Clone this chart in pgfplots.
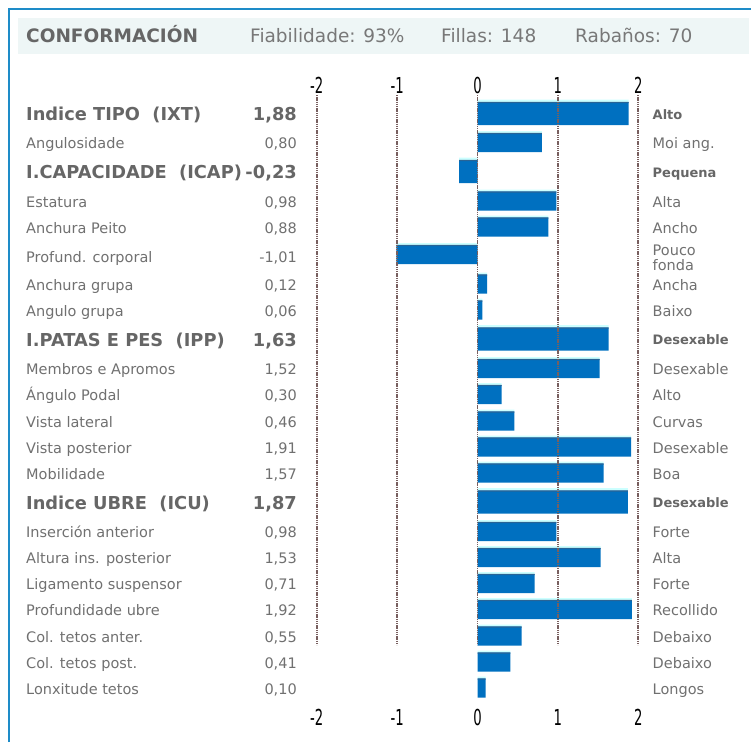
\documentclass[border=0pt]{standalone}
\usepackage{fontspec}
\setmainfont{DejaVu Sans}
\usepackage{graphicx}
\usepackage{pgfplots}
\pgfplotsset{compat=1.18}
\usepackage{pgfplotstable}
\definecolor{barblue}{RGB}{0,112,192}
\definecolor{barcyan}{RGB}{204,255,255}
\definecolor{bardark}{RGB}{40,100,150}
\definecolor{gridc}{RGB}{120,95,95}
\definecolor{txt}{RGB}{112,112,112}
\definecolor{btxt}{RGB}{102,102,102}
\definecolor{htxt}{RGB}{120,120,120}
\definecolor{framec}{RGB}{30,140,200}
\definecolor{band}{RGB}{238,246,246}

\pgfplotstableread{
y v
142.5 0.80
201 0.98
227 0.88
254.5 -1.01
284 0.12
310 0.06
368.5 1.52
394.5 0.30
421 0.46
447 1.91
473 1.57
531.5 0.98
557.5 1.53
583.5 0.71
609.5 1.92
636 0.55
662 0.41
688 0.10
}\normalrows

\pgfplotstableread{
y v
113.5 1.88
171.5 -0.23
339 1.63
502 1.87
}\boldrows

\tikzset{
  lab/.style={anchor=base west, inner sep=0pt, text=txt, font=\fontsize{14.5}{17}\selectfont},
  val/.style={anchor=base east, inner sep=0pt, text=txt, font=\fontsize{14.5}{17}\selectfont},
  rlab/.style={anchor=base west, inner sep=0pt, text=txt, font=\fontsize{14.5}{17}\selectfont},
  blab/.style={anchor=base west, inner sep=0pt, text=btxt, font=\bfseries\fontsize{17.8}{20}\selectfont},
  bval/.style={anchor=base east, inner sep=0pt, text=btxt, font=\bfseries\fontsize{17.8}{20}\selectfont},
  rblab/.style={anchor=base west, inner sep=0pt, text=btxt, font=\bfseries\fontsize{13}{15}\selectfont},
  ticklab/.style={anchor=center, inner sep=0pt, text=black, font=\fontsize{22}{22}\selectfont},
}
\newcommand{\row}[4]{%
  \node[lab] at (26,#1+5.3) {#2};
  \node[val] at (297,#1+5.3) {#3};
  \node[rlab] at (652.5,#1+5.3) {#4};}
\newcommand{\brow}[4]{%
  \node[blab] at (26,#1+6.5) {#2};
  \node[bval] at (297,#1+6.5) {#3};
  \node[rblab] at (652.5,#1+4.7) {#4};}

\begin{document}
\begin{tikzpicture}
% frame and header band
\begin{scope}[shift={(0,742pt)}, x=1pt, y=-1pt]
  \fill[band] (18,18) rectangle (749,54);
  \draw[framec, line width=2.4pt] (8.7,742) -- (8.7,9) -- (751,9);
  \node[anchor=base west, inner sep=0pt, text=btxt, font=\bfseries\fontsize{18.5}{20}\selectfont] at (26,42.7) {CONFORMACIÓN};
  \node[anchor=base west, inner sep=0pt, text=htxt, font=\fontsize{18.5}{20}\selectfont] at (250,42.7) {Fiabilidade: 93\%};
  \node[anchor=base west, inner sep=0pt, text=htxt, font=\fontsize{18.5}{20}\selectfont] at (441,42.7) {Fillas: 148};
  \node[anchor=base west, inner sep=0pt, text=htxt, font=\fontsize{18.5}{20}\selectfont] at (575,42.7) {Rabaños: 70};
\end{scope}

\begin{axis}[
  scale only axis, width=751pt, height=742pt,
  anchor=south west, at={(0pt,0pt)},
  xmin=-5.93905, xmax=3.40174,
  ymin=0, ymax=742, y dir=reverse,
  hide axis, clip=false,
]
% normal rows
\addplot[xbar, bar width=2, bar shift=0pt, fill=barcyan, draw=none] table[x=v, y expr=\thisrow{y}-10.5] {\normalrows};
\addplot[xbar, bar width=19, bar shift=0pt, fill=barblue, draw=none] table[x=v, y=y] {\normalrows};
\addplot[xbar, bar width=1.2, bar shift=0pt, fill=bardark, draw=none] table[x=v, y expr=\thisrow{y}-9] {\normalrows};
% bold rows
\addplot[xbar, bar width=2.5, bar shift=0pt, fill=barcyan, draw=none] table[x=v, y expr=\thisrow{y}-12.75] {\boldrows};
\addplot[xbar, bar width=23, bar shift=0pt, fill=barblue, draw=none] table[x=v, y=y] {\boldrows};
\addplot[xbar, bar width=1.2, bar shift=0pt, fill=bardark, draw=none] table[x=v, y expr=\thisrow{y}-11] {\boldrows};
% grid lines and tick labels
\pgfplotsinvokeforeach{-2,-1,0,1,2}{
  \draw[gridc, line width=1.8pt, dash pattern=on 1.4pt off 0.8pt] (axis cs:#1,95) -- (axis cs:#1,645);
  \node[ticklab] at (axis cs:#1,85.5) {\scalebox{0.6}[1]{#1}};
  \node[ticklab] at (axis cs:#1,717) {\scalebox{0.6}[1]{#1}};
}
\end{axis}

\begin{scope}[shift={(0,742pt)}, x=1pt, y=-1pt]
  \brow{114.5}{Indice TIPO\ \ (IXT)}{1,88}{Alto}
  \row{143.5}{Angulosidade}{0,80}{Moi ang.}
  \brow{172.5}{I.CAPACIDADE\ \ (ICAP)}{-0,23}{Pequena}
  \row{202}{Estatura}{0,98}{Alta}
  \row{228}{Anchura Peito}{0,88}{Ancho}
  \node[lab] at (26,257+5.3) {Profund. corporal};
  \node[val] at (297,257+5.3) {-1,01};
  \node[rlab] at (652.5,250+5.3) {Pouco};
  \node[rlab] at (652.5,265+5.3) {fonda};
  \row{285}{Anchura grupa}{0,12}{Ancha}
  \row{311}{Angulo grupa}{0,06}{Baixo}
  \brow{340}{I.PATAS E PES\ \ (IPP)}{1,63}{Desexable}
  \row{369.5}{Membros e Apromos}{1,52}{Desexable}
  \row{395.5}{Ángulo Podal}{0,30}{Alto}
  \row{422}{Vista lateral}{0,46}{Curvas}
  \row{448}{Vista posterior}{1,91}{Desexable}
  \row{474}{Mobilidade}{1,57}{Boa}
  \brow{503}{Indice UBRE\ \ (ICU)}{1,87}{Desexable}
  \row{532.5}{Inserción anterior}{0,98}{Forte}
  \row{558.5}{Altura ins. posterior}{1,53}{Alta}
  \row{584.5}{Ligamento suspensor}{0,71}{Forte}
  \row{610.5}{Profundidade ubre}{1,92}{Recollido}
  \row{637}{Col. tetos anter.}{0,55}{Debaixo}
  \row{663}{Col. tetos post.}{0,41}{Debaixo}
  \row{689}{Lonxitude tetos}{0,10}{Longos}
\end{scope}
\pgfresetboundingbox
\useasboundingbox (0,0) rectangle (751pt,742pt);
\end{tikzpicture}
\end{document}
